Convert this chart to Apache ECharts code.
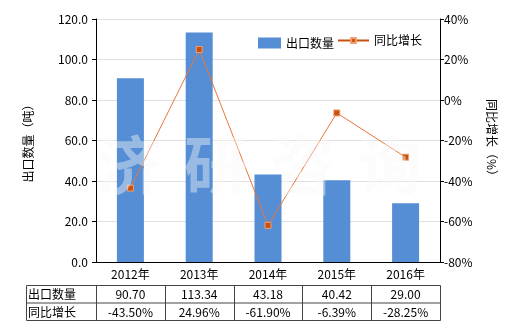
<!DOCTYPE html>
<html><head><meta charset="utf-8">
<script src="https://cdn.jsdelivr.net/npm/echarts@6/dist/echarts.min.js"></script>
<style>html,body{margin:0;padding:0;background:#fff}#c{width:520px;height:330px}</style>
</head><body><div id="c"></div>
<script>
var categories = ['2012年','2013年','2014年','2015年','2016年'];
var exportQty = [90.70, 113.34, 43.18, 40.42, 29.00];
var yoyGrowth = [-43.50, 24.96, -61.90, -6.39, -28.25];
var seriesNames = ['出口数量','同比增长'];
var leftTicks = {min:0, max:120, interval:20};
var rightTicks = {min:-80, max:40, interval:20};
var watermark = ['济','研','咨','询'];

var FONT = '"Noto Sans CJK SC", "Microsoft YaHei", sans-serif';
var G = {left:96, right:440, top:19, bottom:262};
var chart = echarts.init(document.getElementById('c'));

var graphics = [];
var tTop = 285, rowH = 17.5;
var colW = (G.right - G.left) / categories.length;
var rows = [
  {name: seriesNames[0], vals: exportQty.map(function(v){return v.toFixed(2);})},
  {name: seriesNames[1], vals: yoyGrowth.map(function(v){return v.toFixed(2)+'%';})}
];
graphics.push({type:'rect', shape:{x:26.5, y:tTop+0.5, width:G.right-26, height:rowH*2}, style:{fill:null, stroke:'#444', lineWidth:1}, silent:true});
graphics.push({type:'line', shape:{x1:26.5, y1:tTop+rowH+0.5, x2:G.right+0.5, y2:tTop+rowH+0.5}, style:{stroke:'#444', lineWidth:1}});
for (var i=0;i<=categories.length-1;i++){
  var x = Math.round(G.left + i*colW)+0.5;
  graphics.push({type:'line', shape:{x1:x, y1:tTop+0.5, x2:x, y2:tTop+rowH*2+0.5}, style:{stroke:'#444', lineWidth:1}});
}
rows.forEach(function(r, ri){
  var cy = tTop + rowH*ri + rowH/2 + 1;
  graphics.push({type:'text', style:{text:r.name, x:28, y:cy, textVerticalAlign:'middle', textAlign:'left', font:'12px '+FONT, fill:'#000'}});
  r.vals.forEach(function(v, ci){
    graphics.push({type:'text', style:{text:v, x:G.left + colW*(ci+0.5), y:cy, textAlign:'center', textVerticalAlign:'middle', font:'12px '+FONT, fill:'#000'}});
  });
});
watermark.forEach(function(ch, i){
  graphics.push({type:'text', z:100, silent:true, style:{text:ch, x:129 + i*87, y:165, textAlign:'center', textVerticalAlign:'middle', font:'bold 64px '+FONT, fill:'rgba(248,248,248,0.42)'}});
});

chart.setOption({
  animation:false,
  textStyle:{fontFamily:FONT},
  grid:{left:G.left, right:520-G.right, top:G.top, bottom:330-G.bottom},
  legend:[{
    data:[{name:seriesNames[0], icon:'rect'}],
    top:32, left:253, itemWidth:23, itemHeight:11, itemGap:6,
    textStyle:{fontSize:12, color:'#000', fontFamily:FONT}
  },{
    data:[{name:seriesNames[1], lineStyle:{width:2, color:'#c8500f'}}],
    top:32, left:332, itemWidth:31, itemHeight:6, itemGap:5, padding:[2.5,5,2.5,5],
    textStyle:{fontSize:12, color:'#000', fontFamily:FONT}
  }],
  xAxis:{
    type:'category', data:categories,
    axisLine:{lineStyle:{color:'#000'}},
    axisTick:{alignWithLabel:true, length:4, lineStyle:{color:'#000'}},
    axisLabel:{color:'#000', fontSize:12, margin:6}
  },
  yAxis:[{
    type:'value', min:leftTicks.min, max:leftTicks.max, interval:leftTicks.interval,
    name:'出口数量（吨）', nameLocation:'middle', nameGap:62, nameRotate:90,
    nameTextStyle:{color:'#000', fontSize:12},
    axisLine:{show:true, lineStyle:{color:'#000'}},
    axisTick:{show:true, length:4, lineStyle:{color:'#000'}},
    axisLabel:{color:'#000', fontSize:12, margin:8, formatter:function(v){return v.toFixed(1);}},
    splitLine:{lineStyle:{color:'#e0e0e0'}}
  },{
    type:'value', min:rightTicks.min, max:rightTicks.max, interval:rightTicks.interval,
    name:'同比增长（%）', nameLocation:'middle', nameGap:46, nameRotate:-90,
    nameTextStyle:{color:'#000', fontSize:12},
    axisLine:{show:true, lineStyle:{color:'#000'}},
    axisTick:{show:true, length:4, lineStyle:{color:'#000'}},
    axisLabel:{color:'#000', fontSize:12, margin:4, formatter:'{value}%'},
    splitLine:{show:false}
  }],
  series:[{
    name:seriesNames[0], type:'bar', data:exportQty, barWidth:27,
    itemStyle:{color:'#558ed5'}
  },{
    name:seriesNames[1], type:'line', yAxisIndex:1, data:yoyGrowth,
    symbol:'rect', symbolSize:6,
    lineStyle:{color:'#e8763a', width:1},
    itemStyle:{color:'#c8500f', borderColor:'#f0a070', borderWidth:1}
  }],
  graphic:graphics
});
</script></body></html>
